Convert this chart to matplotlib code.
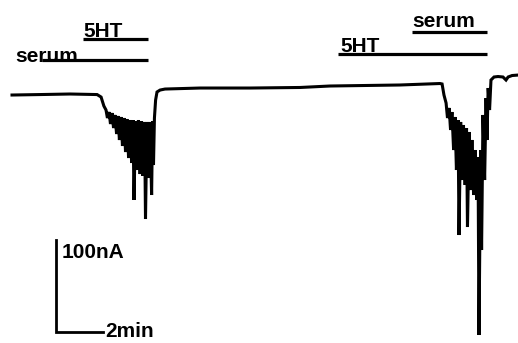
import matplotlib
matplotlib.use("Agg")
import matplotlib.pyplot as plt

# membrane current trace (time in min, current in nA, inward = negative)
time_min = [0.00, 1.19, 2.47, 3.62, 3.79, 3.91,
            4.00, 4.06, 4.13, 4.19, 4.26, 4.32, 4.38, 4.45, 4.51, 4.57, 4.64, 4.70,
            4.77, 4.83, 4.89, 4.96, 5.02, 5.09, 5.15, 5.19, 5.26, 5.32, 5.38, 5.45,
            5.51, 5.57, 5.64, 5.68, 5.74, 5.81, 5.87, 5.94, 5.98, 6.02, 6.06,
            6.11, 6.17, 6.30, 6.51, 8.00, 10.13, 12.26, 13.53, 16.51, 18.21,
            18.30, 18.38, 18.47, 18.53, 18.60, 18.66, 18.72, 18.79, 18.85, 18.91,
            18.98, 19.02, 19.09, 19.15, 19.21, 19.28, 19.34, 19.38, 19.45, 19.51,
            19.57, 19.64, 19.70, 19.77, 19.83, 19.87, 19.94, 19.98, 20.04, 20.11,
            20.17, 20.21, 20.26, 20.32, 20.38,
            20.51, 20.68, 20.89, 21.02, 21.11, 21.28, 21.53]
current_nA = [0.0, 0.5, 1.1, 0.5, -2.2, -12.0,
              -16.3, -25.0, -18.5, -31.5, -19.6, -35.9, -21.7, -42.4, -22.8, -48.9, -23.9, -55.4,
              -25.0, -62.0, -26.1, -68.5, -27.2, -73.9, -27.2, -114.1, -28.3, -81.5, -27.2, -85.9,
              -28.3, -88.0, -29.3, -134.8, -29.3, -90.2, -29.3, -108.7, -28.3, -76.1, -25.0,
              -5.4, 3.3, 5.4, 6.5, 7.6, 7.6, 8.2, 9.8, 10.9, 12.5,
              12.0, 0.0, -8.7, -25.0, -14.1, -38.0, -18.5, -59.8, -23.9, -81.5,
              -27.2, -152.2, -29.3, -92.4, -32.6, -97.8, -35.9, -143.5, -40.2, -103.3,
              -48.9, -108.7, -59.8, -114.1, -67.4, -260.9, -59.8, -168.5, -21.7, -92.4,
              -3.3, -48.9, 7.6, -16.3, 16.3,
              19.6, 20.1, 19.6, 16.3, 19.6, 21.2, 21.7]

# drug application bars: label, start, end (min), bar level (nA)
bar_labels = ["serum", "5HT", "5HT", "serum"]
bar_start = [1.28, 3.02, 13.87, 17.02]
bar_end = [5.79, 5.79, 20.21, 20.21]
bar_level = [38.0, 60.9, 44.6, 68.5]
label_x = [0.13, 3.02, 13.96, 17.02]
label_y = [35.9, 63.0, 46.7, 73.9]

# calibration bar
scale_nA = 100
scale_min = 2

fig = plt.figure(figsize=(5.18, 3.43), dpi=100)
ax = fig.add_axes([0, 0, 1, 1])
ax.set_xlim(-0.511, 21.53)
ax.set_ylim(-269.6, 103.3)
ax.axis("off")

ax.plot(time_min, current_nA, color="black", lw=2.2, solid_joinstyle="miter")

font = dict(fontsize=15, family="Liberation Sans", fontweight="bold")
for lab, x0, x1, lev, tx, ty in zip(bar_labels, bar_start, bar_end, bar_level, label_x, label_y):
    ax.plot([x0, x1], [lev, lev], color="black", lw=2.3, solid_capstyle="butt")
    ax.text(tx, ty, lab, ha="left", va="baseline", **font)

x0, y0 = 1.87, -257.6
ax.plot([x0, x0, x0 + scale_min], [y0 + scale_nA, y0, y0], color="black", lw=2.0,
        solid_joinstyle="miter")
ax.text(2.09, -160.9, "%dnA" % scale_nA, ha="left", va="top", **font)
ax.text(3.96, -263.5, "%dmin" % scale_min, ha="left", va="baseline", **font)

fig.savefig("out.png", dpi=100)
